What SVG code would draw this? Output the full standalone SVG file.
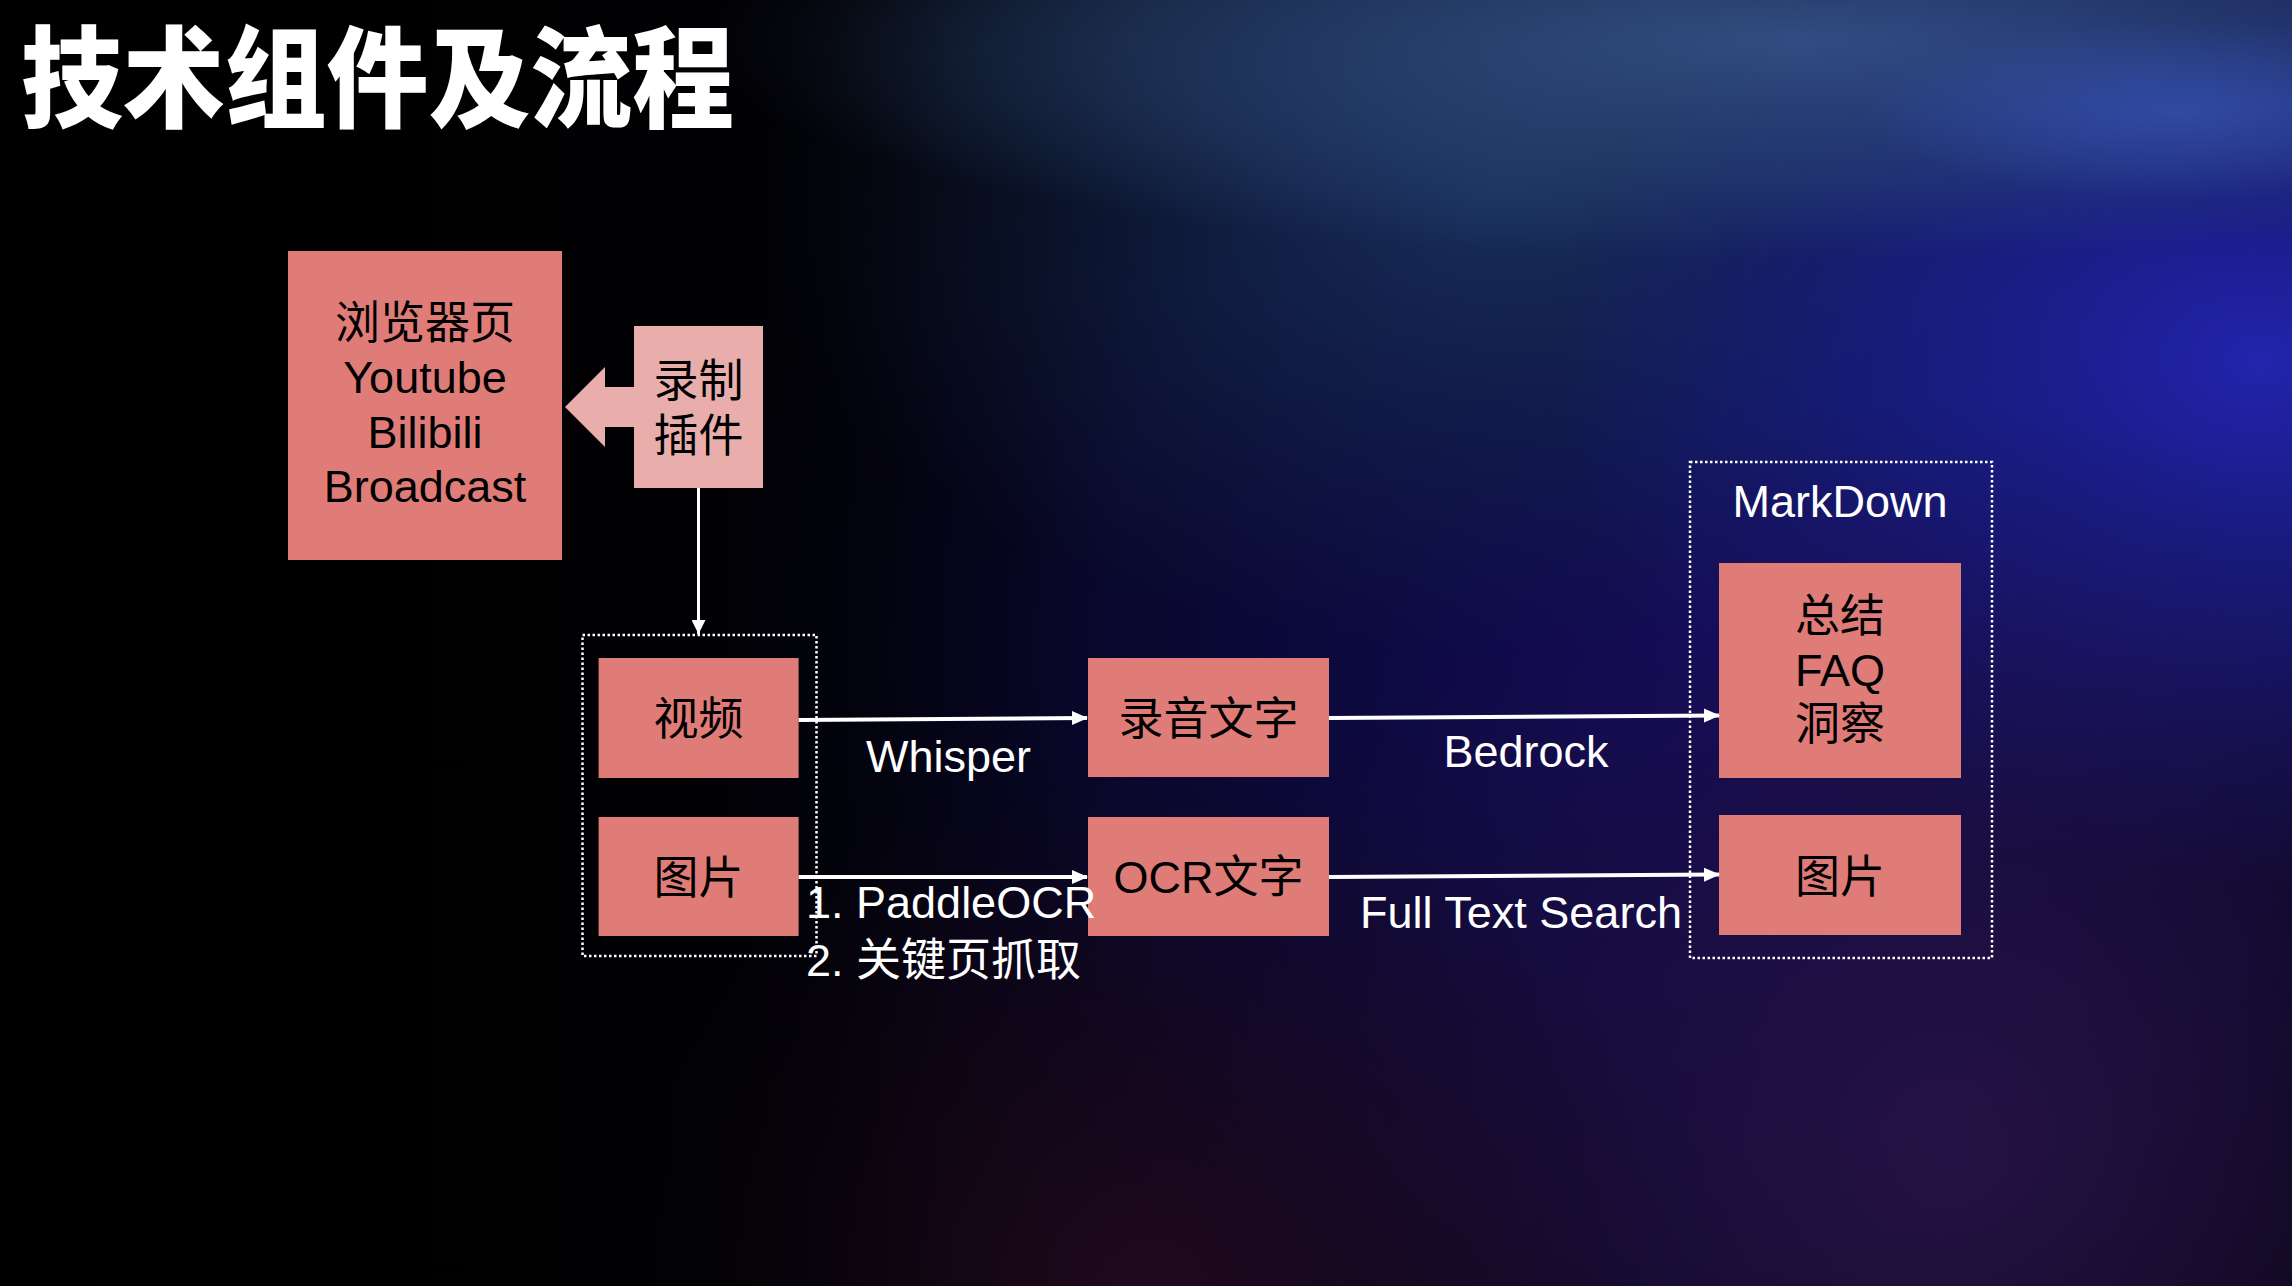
<svg xmlns="http://www.w3.org/2000/svg" width="2292" height="1286" viewBox="0 0 2292 1286">
<defs>
<radialGradient id="gNavy" cx="1700" cy="650" r="1100" gradientUnits="userSpaceOnUse">
<stop offset="0" stop-color="#120c62" stop-opacity="0.95"/>
<stop offset="0.55" stop-color="#0c0a3c" stop-opacity="0.7"/>
<stop offset="1" stop-color="#000000" stop-opacity="0"/>
</radialGradient>
<radialGradient id="gBlue" cx="2260" cy="360" r="700" gradientUnits="userSpaceOnUse" gradientTransform="translate(2260 360) scale(1 0.75) translate(-2260 -360)">
<stop offset="0" stop-color="#2426b4" stop-opacity="0.95"/>
<stop offset="0.5" stop-color="#1c22a0" stop-opacity="0.6"/>
<stop offset="1" stop-color="#1a20a0" stop-opacity="0"/>
</radialGradient>
<radialGradient id="gTeal" cx="1500" cy="200" r="750" gradientUnits="userSpaceOnUse" gradientTransform="translate(1500 200) scale(1 0.6) translate(-1500 -200)">
<stop offset="0" stop-color="#1c3a66" stop-opacity="0.75"/>
<stop offset="1" stop-color="#15304a" stop-opacity="0"/>
</radialGradient>
<radialGradient id="gHaze" cx="1800" cy="40" r="1100" gradientUnits="userSpaceOnUse" gradientTransform="translate(1800 40) scale(1 0.2) translate(-1800 -40)">
<stop offset="0" stop-color="#3a5a90" stop-opacity="0.8"/>
<stop offset="0.6" stop-color="#304e80" stop-opacity="0.45"/>
<stop offset="1" stop-color="#304e80" stop-opacity="0"/>
</radialGradient>
<radialGradient id="gStreak" cx="2180" cy="110" r="320" gradientUnits="userSpaceOnUse" gradientTransform="translate(2180 110) scale(1 0.28) translate(-2180 -110)">
<stop offset="0" stop-color="#3a58c0" stop-opacity="0.6"/>
<stop offset="1" stop-color="#3a58c0" stop-opacity="0"/>
</radialGradient>
<radialGradient id="gPurple" cx="1950" cy="1150" r="750" gradientUnits="userSpaceOnUse">
<stop offset="0" stop-color="#2a1448" stop-opacity="0.85"/>
<stop offset="1" stop-color="#24103e" stop-opacity="0"/>
</radialGradient>
<radialGradient id="gMaroon" cx="1150" cy="1300" r="550" gradientUnits="userSpaceOnUse">
<stop offset="0" stop-color="#260a22" stop-opacity="0.85"/>
<stop offset="1" stop-color="#1a0818" stop-opacity="0"/>
</radialGradient>
<linearGradient id="gLeft" x1="0" y1="0" x2="950" y2="0" gradientUnits="userSpaceOnUse">
<stop offset="0" stop-color="#000000" stop-opacity="1"/>
<stop offset="0.55" stop-color="#000000" stop-opacity="0.75"/>
<stop offset="1" stop-color="#000000" stop-opacity="0"/>
</linearGradient>
<marker id="ah" markerUnits="userSpaceOnUse" markerWidth="16" markerHeight="16" viewBox="0 0 16 16" refX="15" refY="8" orient="auto">
<path d="M0,1 L16,8 L0,15 Z" fill="#ffffff"/>
</marker>
<marker id="ahv" markerUnits="userSpaceOnUse" markerWidth="14" markerHeight="14" viewBox="0 0 14 14" refX="14" refY="7" orient="auto">
<path d="M0,0 L14,7 L0,14 Z" fill="#ffffff"/>
</marker>
</defs>
<style>
.box{fill:#e07c78;}
.lbox{fill:#e9aeab;}
.dot{fill:none;stroke:#ffffff;stroke-width:2.5;stroke-dasharray:2.5 2.5;}
.t{font-family:"Liberation Sans","Noto Sans CJK SC",sans-serif;font-size:45px;text-anchor:middle;fill:#000000;}
.w{font-family:"Liberation Sans","Noto Sans CJK SC",sans-serif;font-size:45px;fill:#ffffff;}
.c{text-anchor:middle;}
.ln{fill:none;stroke:#ffffff;stroke-width:4;}
</style>
<g id="background">
<rect x="0" y="0" width="2292" height="1286" fill="#020208"/>
<rect x="0" y="0" width="2292" height="1286" fill="url(#gNavy)"/>
<rect x="0" y="0" width="2292" height="1286" fill="url(#gTeal)"/>
<rect x="0" y="0" width="2292" height="1286" fill="url(#gBlue)"/>
<rect x="0" y="0" width="2292" height="1286" fill="url(#gHaze)"/>
<rect x="0" y="0" width="2292" height="1286" fill="url(#gStreak)"/>
<rect x="0" y="0" width="2292" height="1286" fill="url(#gPurple)"/>
<rect x="0" y="0" width="2292" height="1286" fill="url(#gMaroon)"/>
<rect x="0" y="0" width="2292" height="1286" fill="url(#gLeft)"/>
</g>
<text id="title" x="21" y="119" font-family="Noto Sans CJK SC, sans-serif" font-weight="900" font-size="110" fill="#ffffff" textLength="713" lengthAdjust="spacingAndGlyphs">技术组件及流程</text>
<g id="browser">
<rect class="box" x="288" y="251" width="274" height="309"/>
<text class="t" x="425" y="339">浏览器页</text>
<text class="t" x="425" y="393">Youtube</text>
<text class="t" x="425" y="448">Bilibili</text>
<text class="t" x="425" y="502">Broadcast</text>
</g>
<g id="plugin">
<polygon class="lbox" points="565,407 605,367 605,387 634,387 634,427 605,427 605,447"/>
<rect class="lbox" x="634" y="326" width="129" height="162"/>
<text class="t" x="698.5" y="397">录制</text>
<text class="t" x="698.5" y="452">插件</text>
</g>
<g id="media-group">
<rect class="dot" x="582.5" y="635" width="234" height="321"/>
</g>
<g id="video">
<rect class="box" x="598.6" y="658" width="200" height="120"/>
<text class="t" x="698.6" y="735">视频</text>
</g>
<g id="image-src">
<rect class="box" x="598.6" y="817" width="200" height="119"/>
<text class="t" x="698.6" y="894">图片</text>
</g>
<g id="audio-text">
<rect class="box" x="1088" y="658" width="241" height="119"/>
<text class="t" x="1208.5" y="735">录音文字</text>
</g>
<g id="ocr-text">
<rect class="box" x="1088" y="817" width="241" height="119"/>
<text class="t" x="1208.5" y="893">OCR文字</text>
</g>
<g id="markdown">
<rect class="dot" x="1690" y="462" width="302" height="496"/>
<text class="w c" x="1840" y="517">MarkDown</text>
</g>
<g id="summary">
<rect class="box" x="1719" y="563" width="242" height="215"/>
<text class="t" x="1840" y="632">总结</text>
<text class="t" x="1840" y="686">FAQ</text>
<text class="t" x="1840" y="740">洞察</text>
</g>
<g id="image-out">
<rect class="box" x="1719" y="815" width="242" height="120"/>
<text class="t" x="1840" y="893">图片</text>
</g>
<g id="connectors">
<line class="ln" style="stroke-width:3" x1="698.5" y1="488" x2="698.5" y2="634" marker-end="url(#ahv)"/>
<line class="ln" x1="798.6" y1="720" x2="1087" y2="718" marker-end="url(#ah)"/>
<line class="ln" x1="798.6" y1="877" x2="1087" y2="877" marker-end="url(#ah)"/>
<line class="ln" x1="1329" y1="718" x2="1719" y2="715.5" marker-end="url(#ah)"/>
<line class="ln" x1="1329" y1="877" x2="1719" y2="874.6" marker-end="url(#ah)"/>
<text class="w c" x="948.5" y="772">Whisper</text>
<text class="w" x="806" y="918">1. PaddleOCR</text>
<text class="w" x="806" y="976">2. 关键页抓取</text>
<text class="w c" x="1526" y="767">Bedrock</text>
<text class="w c" x="1521" y="928">Full Text Search</text>
</g>
</svg>
